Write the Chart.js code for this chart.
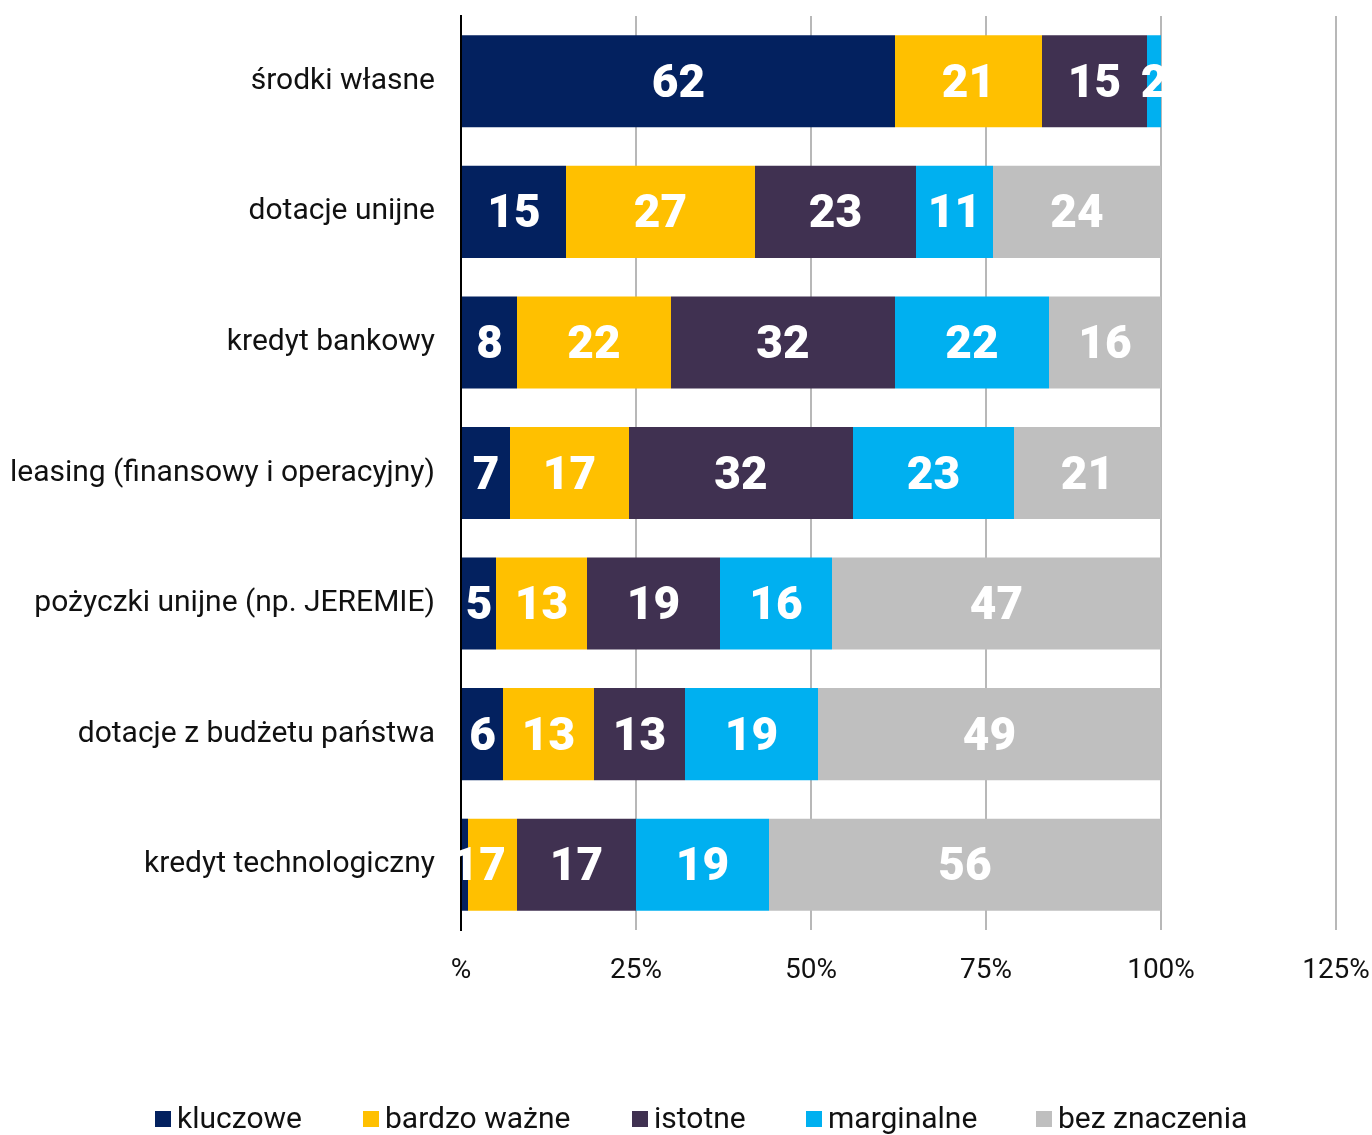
<!DOCTYPE html>
<html>
<head>
<meta charset="utf-8">
<script src="https://cdn.jsdelivr.net/npm/chart.js@4/dist/chart.umd.min.js"></script>
<style>
  html, body { margin: 0; padding: 0; background: #fff; }
  #wrap { position: relative; width: 1372px; height: 1135px; }
  #legend { position: absolute; left: 0; top: 1100px; width: 1372px; height: 35px;
    font-family: Roboto, "Noto Sans", sans-serif; font-size: 30px; color: #111; }
  .item { position: absolute; top: 0; white-space: nowrap; line-height: 36px; }
  .box { display: inline-block; width: 16px; height: 16px; margin-right: 6px; vertical-align: 1px; }
</style>
</head>
<body>
<div id="wrap">
  <canvas id="chart" width="1372" height="1135"></canvas>
  <div id="legend"></div>
</div>
<script>
// Data
const categories = [
  "środki własne",
  "dotacje unijne",
  "kredyt bankowy",
  "leasing (finansowy i operacyjny)",
  "pożyczki unijne (np. JEREMIE)",
  "dotacje z budżetu państwa",
  "kredyt technologiczny"
];
const seriesNames = ["kluczowe", "bardzo ważne", "istotne", "marginalne", "bez znaczenia"];
const kluczowe = [62, 15, 8, 7, 5, 6, 1];
const bardzoWazne = [21, 27, 22, 17, 13, 13, 7];
const istotne = [15, 23, 32, 32, 19, 13, 17];
const marginalne = [2, 11, 22, 23, 16, 19, 19];
const bezZnaczenia = [0, 24, 16, 21, 47, 49, 56];
const xTicks = [0, 25, 50, 75, 100, 125];

const colors = ["#03215f", "#ffc000", "#403151", "#00b0f0", "#bfbfbf"];
const legendLeft = [155, 363, 632, 806, 1036];

// Value labels inside the bars
const barLabels = {
  id: "barLabels",
  afterDatasetsDraw(chart) {
    const ctx = chart.ctx;
    ctx.save();
    ctx.fillStyle = "#fff";
    ctx.font = "900 46px Roboto, 'Noto Sans', sans-serif";
    ctx.textAlign = "center";
    ctx.textBaseline = "middle";
    chart.data.datasets.forEach((ds, i) => {
      const meta = chart.getDatasetMeta(i);
      meta.data.forEach((bar, j) => {
        const v = ds.data[j];
        if (!v) return;
        ctx.fillText(String(v), (bar.x + bar.base) / 2, bar.y + 4);
      });
    });
    ctx.restore();
  }
};

const allSeries = [kluczowe, bardzoWazne, istotne, marginalne, bezZnaczenia];

const chart = new Chart(document.getElementById("chart"), {
  type: "bar",
  data: {
    labels: categories,
    datasets: allSeries.map((d, i) => ({
      label: seriesNames[i],
      data: d,
      backgroundColor: colors[i],
      borderWidth: 0,
      categoryPercentage: 1,
      barPercentage: 0.705
    }))
  },
  options: {
    indexAxis: "y",
    responsive: false,
    animation: false,
    layout: { padding: { top: 16, right: 36, left: 0, bottom: 0 } },
    plugins: { legend: { display: false }, tooltip: { enabled: false } },
    scales: {
      x: {
        stacked: true,
        min: 0,
        max: 125,
        afterBuildTicks: (scale) => { scale.ticks = xTicks.map((v) => ({ value: v })); },
        afterFit: (scale) => {
          scale.height = 205;
          scale.paddingLeft = 0;
          scale.paddingRight = 0;
        },
        grid: { color: "#b8b8b8", lineWidth: 2, drawTicks: false },
        border: { display: false },
        ticks: {
          padding: 24,
          maxRotation: 0,
          color: "#111",
          font: { family: "Roboto, 'Noto Sans', sans-serif", size: 28 },
          callback: (v) => (v === 0 ? "%" : v + "%")
        }
      },
      y: {
        stacked: true,
        afterFit: (scale) => {
          scale.width = 461;
          scale.paddingTop = 0;
          scale.paddingBottom = 0;
        },
        grid: { display: false, drawTicks: false },
        border: { display: true, color: "#000", width: 2 },
        ticks: {
          padding: 26,
          color: "#111",
          font: { family: "Roboto, 'Noto Sans', sans-serif", size: 30 }
        }
      }
    }
  },
  plugins: [barLabels]
});

// Legend
const legendEl = document.getElementById("legend");
seriesNames.forEach((name, i) => {
  const item = document.createElement("span");
  item.className = "item";
  item.style.left = legendLeft[i] + "px";
  const box = document.createElement("span");
  box.className = "box";
  box.style.background = colors[i];
  item.appendChild(box);
  item.appendChild(document.createTextNode(name));
  legendEl.appendChild(item);
});
</script>
</body>
</html>
